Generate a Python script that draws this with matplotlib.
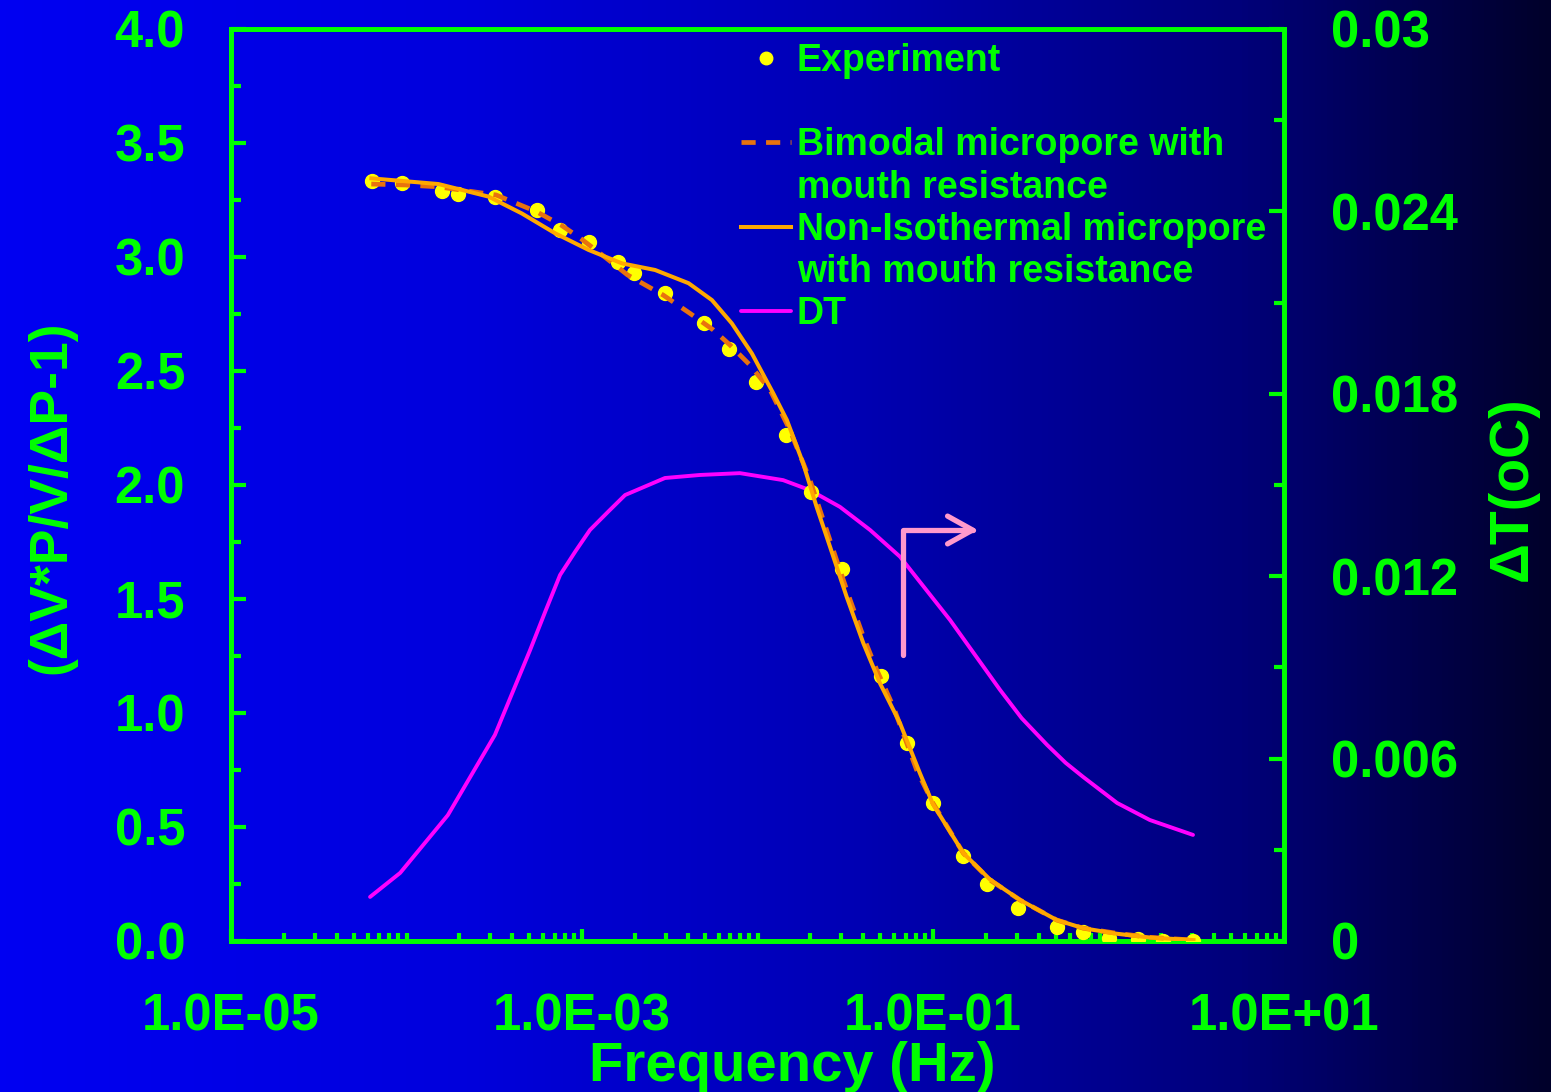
import matplotlib
matplotlib.use("Agg")
import matplotlib.pyplot as plt
import numpy as np
from matplotlib.colors import LinearSegmentedColormap
from matplotlib.lines import Line2D
from matplotlib.ticker import FixedLocator, LogLocator, MultipleLocator, FixedFormatter, NullFormatter

plt.rcParams['font.family'] = ['Liberation Sans', 'DejaVu Sans']
plt.rcParams['font.weight'] = 'bold'

# ---------------- data ----------------
exp_freq = [6.34e-5, 9.40e-5, 1.59e-4, 1.97e-4, 3.19e-4, 5.52e-4, 7.50e-4, 1.09e-3,
            1.61e-3, 1.98e-3, 2.97e-3, 4.95e-3, 6.89e-3, 9.79e-3, 1.45e-2, 2.02e-2,
            3.05e-2, 5.06e-2, 7.08e-2, 9.95e-2, 0.149, 0.202, 0.306, 0.511, 0.713,
            1.01, 1.48, 2.04, 3.04]
exp_val = [3.335, 3.323, 3.291, 3.275, 3.262, 3.206, 3.118, 3.067, 2.979, 2.931,
           2.843, 2.709, 2.596, 2.452, 2.219, 1.969, 1.630, 1.164, 0.868, 0.604,
           0.374, 0.249, 0.143, 0.063, 0.038, 0.014, 0.007, 0.002, 0.0]

bim_freq = [6.3e-5, 9.8e-5, 1.51e-4, 3.24e-4, 5.5e-4, 7.6e-4, 9.8e-4, 1.38e-3, 1.82e-3,
            2.90e-3, 4.12e-3, 5.60e-3, 6.97e-3, 9.06e-3, 1.18e-2, 1.53e-2, 1.99e-2,
            2.37e-2, 2.82e-2, 3.37e-2, 4.01e-2, 4.78e-2, 5.94e-2, 8.07e-2, 0.100,
            0.149, 0.211, 0.313, 0.507, 0.719, 1.11, 1.73, 3.05]
bim_val = [3.32, 3.316, 3.308, 3.272, 3.199, 3.14, 3.082, 2.994, 2.921, 2.833, 2.753,
           2.680, 2.614, 2.526, 2.417, 2.241, 2.022, 1.846, 1.671, 1.496, 1.335, 1.189,
           1.028, 0.750, 0.604, 0.385, 0.268, 0.180, 0.092, 0.056, 0.034, 0.016, 0.004]

noniso_freq = [6.3e-5, 1.52e-4, 2.93e-4, 4.54e-4, 7.03e-4, 1.09e-3, 1.69e-3, 2.61e-3,
               4.05e-3, 5.50e-3, 7.14e-3, 9.29e-3, 1.23e-2, 1.47e-2, 1.82e-2, 2.17e-2,
               2.59e-2, 3.22e-2, 4.01e-2, 4.99e-2, 6.49e-2, 8.43e-2, 0.100, 0.149,
               0.211, 0.313, 0.507, 0.719, 1.11, 1.73, 3.05]
noniso_val = [3.345, 3.32, 3.265, 3.191, 3.104, 3.031, 2.972, 2.943, 2.885, 2.811,
              2.709, 2.577, 2.402, 2.285, 2.095, 1.905, 1.729, 1.510, 1.306, 1.130,
              0.955, 0.735, 0.60, 0.385, 0.27, 0.18, 0.092, 0.056, 0.032, 0.015, 0.004]

dt_freq = [6.2e-5, 9.2e-5, 1.72e-4, 3.19e-4, 5.06e-4, 6.2e-4, 7.5e-4, 9.2e-4, 1.11e-3,
           1.42e-3, 1.76e-3, 2.97e-3, 4.7e-3, 7.94e-3, 1.40e-2, 1.99e-2, 2.95e-2,
           4.38e-2, 6.49e-2, 0.125, 0.241, 0.320, 0.447, 0.570, 0.716, 1.12, 1.72, 3.03]
dt_val = [0.00145, 0.00224, 0.00414, 0.00678, 0.00957, 0.01086, 0.01204, 0.01283,
          0.01352, 0.01414, 0.01467, 0.01523, 0.01533, 0.01539, 0.01516, 0.01483,
          0.01428, 0.01352, 0.01264, 0.01056, 0.00826, 0.00733, 0.00645, 0.00586,
          0.0054, 0.00454, 0.00398, 0.00349]

x_ticks = [1e-5, 1e-3, 1e-1, 1e1]
x_ticklabels = ["1.0E-05", "1.0E-03", "1.0E-01", "1.0E+01"]
yl_ticks = [0.0, 0.5, 1.0, 1.5, 2.0, 2.5, 3.0, 3.5, 4.0]
yl_ticklabels = ["0.0", "0.5", "1.0", "1.5", "2.0", "2.5", "3.0", "3.5", "4.0"]
yr_ticks = [0.0, 0.006, 0.012, 0.018, 0.024, 0.03]
yr_ticklabels = ["0", "0.006", "0.012", "0.018", "0.024", "0.03"]

legend_labels = ["Experiment", "", "Bimodal micropore with", "mouth resistance",
                 "Non-Isothermal micropore", "with mouth resistance", "DT"]

# ---------------- style ----------------
GREEN = "#00FF00"
C_EXP = "#FFFF00"
C_BIM = "#E8720E"
C_NON = "#FFA800"
C_DT = "#FF00FF"
C_ARROW = "#FF99CC"

fig = plt.figure(figsize=(15.51, 10.92), dpi=100)

# background gradient
bg = fig.add_axes([0, 0, 1, 1], zorder=-10)
cmap = LinearSegmentedColormap.from_list(
    "bg", [(0.0, "#0000F2"), (0.3, "#0000DC"), (0.55, "#0000B4"),
           (0.8, "#00007A"), (1.0, "#00002A")])
grad = np.linspace(0, 1, 512).reshape(1, -1)
bg.imshow(grad, cmap=cmap, aspect="auto", extent=[0, 1, 0, 1])
bg.set_axis_off()

L, R, T, B = 231 / 1551, 1284 / 1551, 1 - 29 / 1092, 1 - 941 / 1092
ax = fig.add_axes([L, B, R - L, T - B])
ax2 = ax.twinx()
ax.set_zorder(ax2.get_zorder() + 1)
ax.patch.set_visible(False)
ax2.patch.set_visible(False)

# DT on right axis
dt_line, = ax2.plot(dt_freq, dt_val, color=C_DT, lw=2.8, solid_capstyle="round",
                    solid_joinstyle="round")

# main series
exp_pts, = ax.plot(exp_freq, exp_val, linestyle="none", marker="o", ms=10,
                   color=C_EXP, mec=C_EXP, zorder=3)
bim_line, = ax.plot(bim_freq, bim_val, color=C_BIM, lw=3.4, ls=(0, (3, 2.2)), zorder=4)
non_line, = ax.plot(noniso_freq, noniso_val, color=C_NON, lw=2.9, zorder=5,
                    solid_joinstyle="round")

for a in (ax, ax2):
    a.set_xscale("log")
    a.set_xlim(1e-5, 10)
    for s in a.spines.values():
        s.set_color(GREEN)
        s.set_linewidth(3.4)

ax.set_ylim(0, 4)
ax2.set_ylim(0, 0.03)

ax.xaxis.set_major_locator(FixedLocator(x_ticks))
ax.xaxis.set_major_formatter(FixedFormatter(x_ticklabels))
ax.xaxis.set_minor_locator(LogLocator(base=10, subs=np.arange(1, 10), numticks=50))
ax.xaxis.set_minor_formatter(NullFormatter())

ax.yaxis.set_major_locator(FixedLocator(yl_ticks))
ax.yaxis.set_major_formatter(FixedFormatter(yl_ticklabels))
ax.yaxis.set_minor_locator(MultipleLocator(0.25))

ax2.yaxis.set_major_locator(FixedLocator(yr_ticks))
ax2.yaxis.set_major_formatter(FixedFormatter(yr_ticklabels))
ax2.yaxis.set_minor_locator(MultipleLocator(0.003))

ax.tick_params(axis="x", which="major", direction="in", length=9, width=3,
               color=GREEN, labelcolor=GREEN, labelsize=36.5, pad=37, top=False)
ax.tick_params(axis="x", which="minor", direction="in", length=6, width=3,
               color=GREEN, top=False)
ax.tick_params(axis="y", which="major", direction="in", length=10.5, width=3,
               color=GREEN, labelcolor=GREEN, labelsize=36.5, pad=33, right=False)
ax.tick_params(axis="y", which="minor", direction="in", length=7.5, width=3,
               color=GREEN, right=False)
ax2.tick_params(axis="y", which="major", direction="in", length=10.5, width=3,
                color=GREEN, labelcolor=GREEN, labelsize=36.5, pad=34)
ax2.tick_params(axis="y", which="minor", direction="in", length=7.5, width=3,
                color=GREEN)
ax2.tick_params(axis="x", which="both", bottom=False, top=False,
                labelbottom=False)
for lab in ax.get_xticklabels() + ax.get_yticklabels() + ax2.get_yticklabels():
    lab.set_fontweight("bold")

ax.set_xlabel("Frequency (Hz)", color=GREEN, fontsize=40.5, fontweight="bold")
ax.xaxis.set_label_coords((792 - 231) / 1053, -(1041 - 941) / 912)
ax.set_ylabel("(\u0394V*P/V/\u0394P-1)", color=GREEN, fontsize=38.5, fontweight="bold")
ax.yaxis.set_label_coords(-(231 - 76) / 1053, (941 - 497) / 912)
ax2.set_ylabel("\u0394T(oC)", color=GREEN, fontsize=40, fontweight="bold")
ax2.yaxis.set_label_coords((1487 - 231) / 1053, (941 - 489) / 912)

# pink arrow
ax.annotate("", xy=((978 - 231) / 1053, (941 - 530) / 912),
            xytext=((903 - 231) / 1053, (941 - 655) / 912),
            xycoords="axes fraction", textcoords="axes fraction",
            arrowprops=dict(arrowstyle="->,head_length=0.9,head_width=0.5",
                            connectionstyle="angle,angleA=90,angleB=0,rad=0",
                            color=C_ARROW, lw=3.8, mutation_scale=20,
                            shrinkA=0, shrinkB=0), zorder=6)

# legend
blank = Line2D([], [], linestyle="none")
handles = [exp_pts, blank, bim_line, blank, non_line, blank, dt_line]
leg = ax.legend(handles, legend_labels, loc="upper left",
                bbox_to_anchor=((741 - 231) / 1053, (941 - 43) / 912),
                frameon=False, fontsize=27, labelcolor=GREEN,
                handlelength=1.33, handletextpad=0.16, labelspacing=0.165,
                borderpad=0, borderaxespad=0, markerscale=0.9)
for t in leg.get_texts():
    t.set_fontweight("bold")

fig.savefig("out.png", dpi=100)
